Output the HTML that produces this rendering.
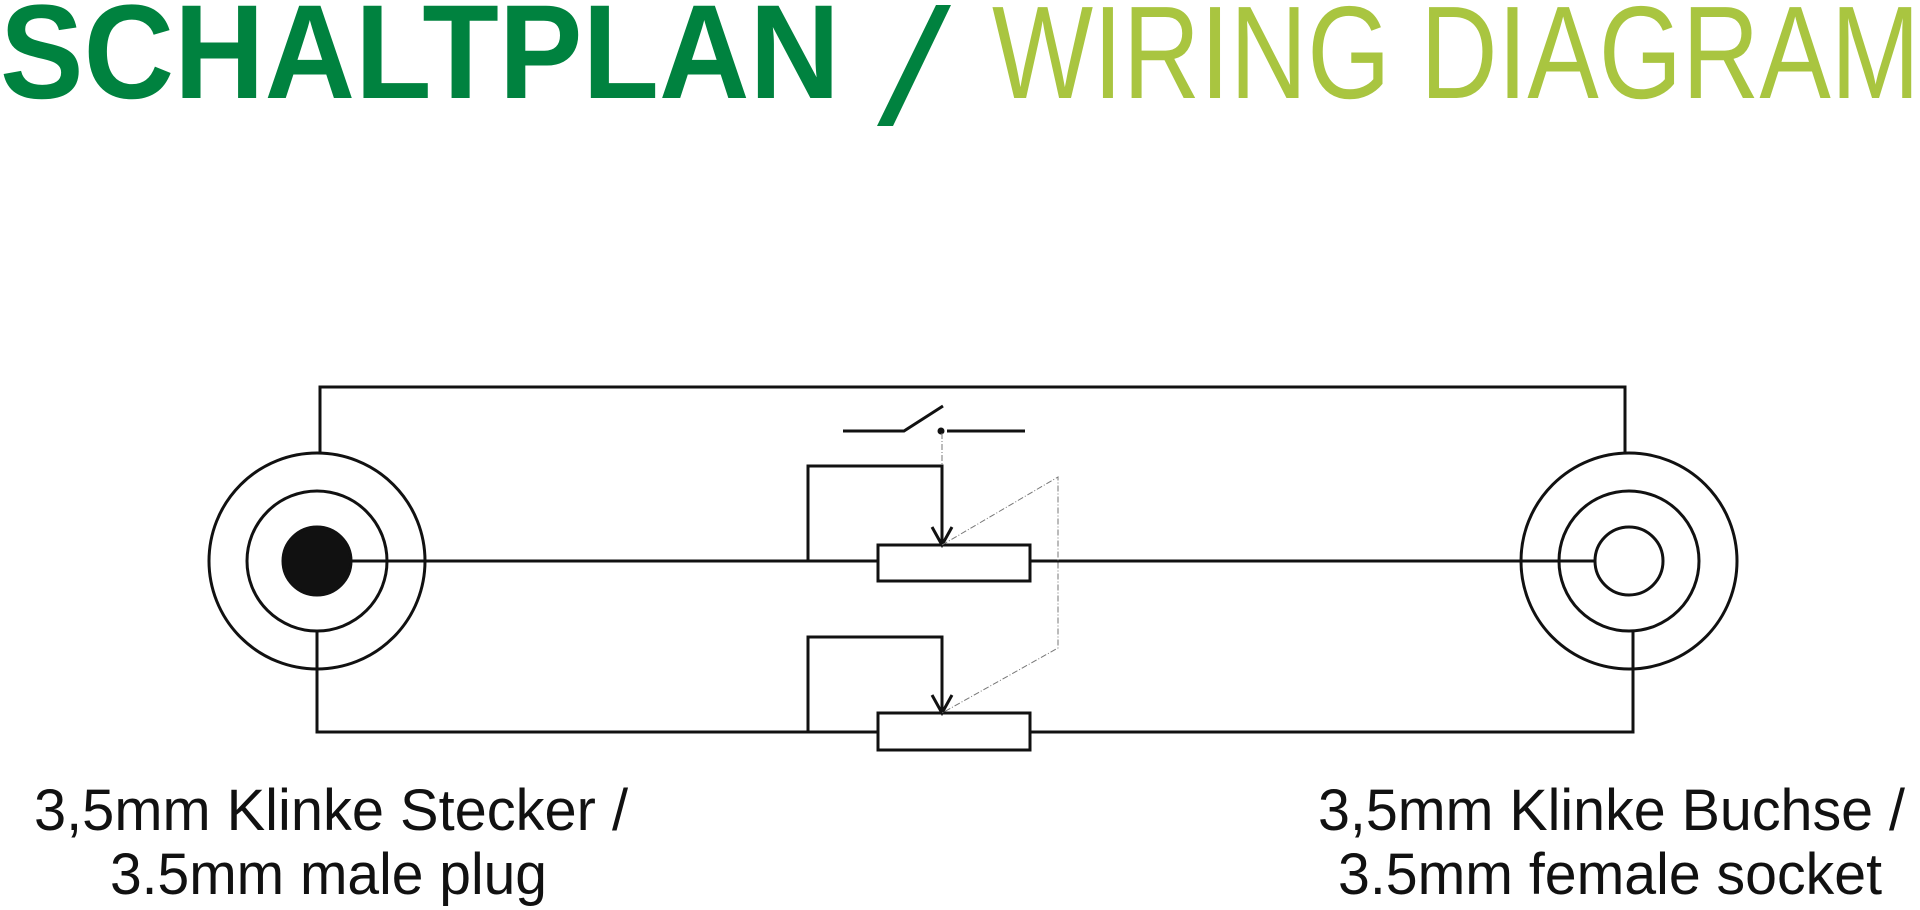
<!DOCTYPE html>
<html><head><meta charset="utf-8"><style>
html,body{margin:0;padding:0;background:#fff;width:1920px;height:910px;overflow:hidden}
svg{display:block}
</style></head><body>
<svg width="1920" height="910" viewBox="0 0 1920 910" xmlns="http://www.w3.org/2000/svg">
<text x="0" y="98" font-family="Liberation Sans, sans-serif" font-weight="bold" font-size="134" fill="#00823f" textLength="840" lengthAdjust="spacingAndGlyphs">SCHALTPLAN</text>
<polygon points="877,126 893,126 951,5 936,5" fill="#00823f"/>
<text x="992" y="98" font-family="Liberation Sans, sans-serif" font-size="132" fill="#a9c540" textLength="928" lengthAdjust="spacingAndGlyphs">WIRING DIAGRAM</text>

<g fill="none" stroke="#111" stroke-width="3">
<circle cx="317" cy="561" r="108"/>
<circle cx="317" cy="561" r="70"/>
<circle cx="317" cy="561" r="34" fill="#111"/>
<circle cx="1629" cy="561" r="108"/>
<circle cx="1629" cy="561" r="70"/>
<circle cx="1629" cy="561" r="34"/>
<polyline points="320,453 320,387 1625,387 1625,453"/>
<line x1="320" y1="561" x2="878" y2="561"/>
<line x1="1030" y1="561" x2="1595" y2="561"/>
<polyline points="317,631 317,732 878,732"/>
<polyline points="1030,732 1633,732 1633,631"/>
<rect x="878" y="545" width="152" height="36" fill="#fff"/>
<rect x="878" y="713" width="152" height="37" fill="#fff"/>
<polyline points="808,561 808,466 942,466 942,545"/>
<polyline points="932,527 942,545 952,527"/>
<polyline points="808,732 808,637 942,637 942,713"/>
<polyline points="932,695 942,713 952,695"/>
<polyline points="843,431 904,431 943,406"/>
<line x1="947" y1="431" x2="1025" y2="431"/>
</g>
<circle cx="941" cy="431" r="3.5" fill="#111"/>
<g fill="none" stroke="#777" stroke-width="1" stroke-dasharray="6,2,1,2">
<line x1="942" y1="433" x2="942" y2="466"/>
<polyline points="942,545 1058,477 1058,648 942,713"/>
</g>

<g font-family="Liberation Sans, sans-serif" font-size="58" fill="#111">
<text x="34" y="830" textLength="594" lengthAdjust="spacingAndGlyphs">3,5mm Klinke Stecker /</text>
<text x="110" y="894" textLength="437" lengthAdjust="spacingAndGlyphs">3.5mm male plug</text>
<text x="1318" y="830" textLength="587" lengthAdjust="spacingAndGlyphs">3,5mm Klinke Buchse /</text>
<text x="1338" y="894" textLength="544" lengthAdjust="spacingAndGlyphs">3.5mm female socket</text>
</g>
</svg>
</body></html>
